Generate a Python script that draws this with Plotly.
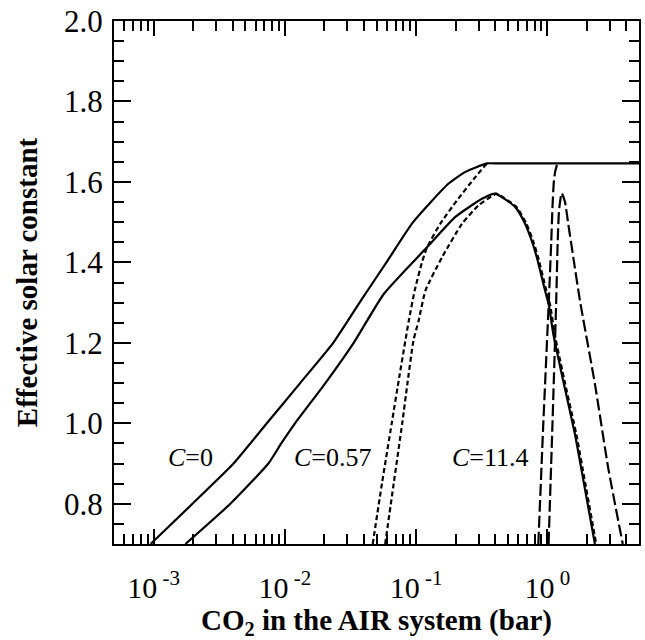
import math
import plotly.graph_objects as go

# ---- data (CO2 in bar, effective solar constant) ----
# Solid pair (C=0)
solid_up_x = [9.5e-4, 1.98e-3, 4.07e-3, 7.3e-3, 1.31e-2, 2.34e-2, 3.8e-2, 5.95e-2, 9.5e-2, 0.177, 0.238, 0.347, 0.42, 1.0, 5.0]
solid_up_y = [0.70, 0.80, 0.90, 1.00, 1.10, 1.20, 1.305, 1.40, 1.50, 1.596, 1.625, 1.646, 1.646, 1.646, 1.646]

solid_lo_x = [1.75e-3, 3.85e-3, 7.5e-3, 9.4e-3, 1.197e-2, 2.04e-2, 3.35e-2, 5.7e-2, 0.1216, 0.1995, 0.318, 0.40,
              0.569, 0.678, 0.759, 0.832, 0.962, 1.03, 1.112, 1.334, 1.626, 1.905, 2.307]
solid_lo_y = [0.70, 0.80, 0.90, 0.95, 1.00, 1.10, 1.20, 1.322, 1.438, 1.513, 1.558, 1.571,
              1.538, 1.496, 1.455, 1.413, 1.33, 1.293, 1.222, 1.10, 0.973, 0.85, 0.70]

# Short-dashed pair (C=0.57)
sdash_up_x = [0.0468, 0.0550, 0.0653, 0.0750, 0.0881, 0.0977, 0.111, 0.1216, 0.153, 0.205, 0.283, 0.347]
sdash_up_y = [0.70, 0.85, 1.00, 1.12, 1.255, 1.33, 1.40, 1.438, 1.496, 1.554, 1.612, 1.646]

sdash_lo_x = [0.0582, 0.0676, 0.0785, 0.0861, 0.0955, 0.1047, 0.118, 0.158, 0.224, 0.300, 0.389, 0.41,
              0.582, 0.694, 0.777, 0.851, 0.984, 1.054, 1.138, 1.365, 1.664, 1.950, 2.36]
sdash_lo_y = [0.70, 0.85, 1.00, 1.10, 1.205, 1.255, 1.33, 1.413, 1.496, 1.542, 1.567, 1.571,
              1.538, 1.496, 1.455, 1.413, 1.33, 1.293, 1.222, 1.10, 0.973, 0.85, 0.70]

# Long-dashed pair (C=11.4)
ldash_up_x = [0.855, 0.933, 1.028, 1.072, 1.096, 1.122, 1.148, 1.194]
ldash_up_y = [0.70, 1.00, 1.305, 1.45, 1.538, 1.60, 1.625, 1.646]

ldash_lo_x = [1.023, 1.096, 1.17, 1.202, 1.23, 1.288, 1.365, 1.445, 1.578, 1.774, 2.307, 2.91, 3.76]
ldash_lo_y = [0.70, 1.00, 1.305, 1.455, 1.53, 1.572, 1.55, 1.496, 1.413, 1.305, 1.098, 0.89, 0.70]

# labels
label_text = ["<i>C</i>=0", "<i>C</i>=0.57", "<i>C</i>=11.4"]
label_x = [1.91e-3, 2.34e-2, 0.369]
label_y = [0.915, 0.915, 0.915]

# axis ticks
x_tickvals = [1e-3, 1e-2, 1e-1, 1]
x_ticktext = ["10<sup> -3</sup>", "10<sup> -2</sup>", "10<sup> -1</sup>", "10<sup> 0</sup>"]
x_minor = [m * 10.0 ** e for e in (-4, -3, -2, -1, 0) for m in range(2, 10) if 5e-4 <= m * 10.0 ** e <= 5.0]
y_tickvals = [0.8, 1.0, 1.2, 1.4, 1.6, 1.8, 2.0]
y_ticktext = ["0.8", "1.0", "1.2", "1.4", "1.6", "1.8", "2.0"]

FONT = "Liberation Serif"
SHORT = "5px,3px"
LONG = "12px,4px"

fig = go.Figure()

def add(x, y, dash, width=2.2):
    fig.add_trace(go.Scatter(x=x, y=y, mode="lines",
                             line=dict(color="black", width=width, dash=dash, shape="spline", smoothing=0.5),
                             showlegend=False, hoverinfo="skip"))

add(ldash_up_x, ldash_up_y, LONG)
add(ldash_lo_x, ldash_lo_y, LONG)
add(sdash_up_x, sdash_up_y, SHORT)
add(sdash_lo_x, sdash_lo_y, SHORT)
add(solid_up_x, solid_up_y, "solid")
add(solid_lo_x, solid_lo_y, "solid")

for t, x, y in zip(label_text, label_x, label_y):
    fig.add_annotation(x=math.log10(x), y=y, text=t, showarrow=False, xref="x", yref="y",
                       font=dict(family=FONT, size=26, color="black"))

fig.update_xaxes(type="log", range=[-3.30103, 0.69897],
                 tickmode="array", tickvals=x_tickvals, ticktext=x_ticktext,
                 ticks="inside", ticklen=15, tickwidth=2, tickcolor="black",
                 minor=dict(tickmode="array", tickvals=x_minor, ticks="inside", ticklen=10,
                            tickwidth=1.5, tickcolor="black", showgrid=False),
                 showline=True, linewidth=2, linecolor="black", mirror="ticks",
                 showgrid=False, zeroline=False, ticklabelstandoff=16,
                 ticklabeloverflow="allow",
                 tickfont=dict(family=FONT, size=30, color="black"),
                 title=dict(text="<b>CO<sub>2</sub> in the AIR system (bar)</b>",
                            font=dict(family=FONT, size=29, color="black"), standoff=6))
fig.update_yaxes(range=[0.7, 2.0],
                 tickmode="array", tickvals=y_tickvals, ticktext=y_ticktext,
                 ticks="inside", ticklen=17, tickwidth=2, tickcolor="black",
                 minor=dict(dtick=0.05, tick0=0, ticks="inside", ticklen=10,
                            tickwidth=1.5, tickcolor="black", showgrid=False),
                 showline=True, linewidth=2, linecolor="black", mirror="ticks",
                 showgrid=False, zeroline=False, ticklabelstandoff=3,
                 ticklabeloverflow="allow",
                 tickfont=dict(family=FONT, size=31, color="black"),
                 title=dict(text="<b>Effective solar constant</b>",
                            font=dict(family=FONT, size=29, color="black"), standoff=18))

fig.update_layout(width=645, height=640,
                  margin=dict(l=114, r=4, t=21, b=96),
                  paper_bgcolor="white", plot_bgcolor="white",
                  showlegend=False)

fig.write_html("out.html", config={"displayModeBar": False},
               post_script="document.body.style.margin='0';document.body.style.overflow='hidden';")
